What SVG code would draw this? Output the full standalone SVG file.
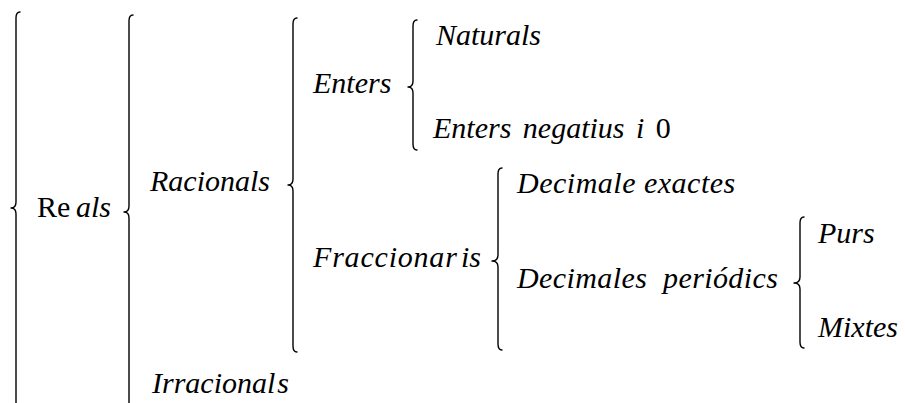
<svg xmlns="http://www.w3.org/2000/svg" width="905" height="403" viewBox="0 0 905 403">
<style>
.t{font-family:"Liberation Serif","Times New Roman",serif;font-size:30px;font-style:italic;fill:#000}
.r{font-style:normal}
.b{fill:none;stroke:#000;stroke-width:1.4;stroke-linecap:round;stroke-linejoin:round}
</style>
<rect width="905" height="403" fill="#fff"/>
<g id="connectors">
<path class="b" d="M20,12 Q16,12 16,18 L16,202 Q16,208 11,208 Q16,208 16,214 L16,410"/>
<path class="b" d="M133,15 Q129,15 129,21 L129,206 Q129,212 124,212 Q129,212 129,218 L129,410"/>
<path class="b" d="M297,18 Q293,18 293,24 L293,179 Q293,185 288,185 Q293,185 293,191 L293,346 Q293,352 297,352"/>
<path class="b" d="M417,20 Q413,20 413,26 L413,81 Q413,87 408,87 Q413,87 413,93 L413,144 Q413,150 417,150"/>
<path class="b" d="M502,168 Q498,168 498,174 L498,255 Q498,261 492,261 Q498,261 498,267 L498,344 Q498,350 502,350"/>
<path class="b" d="M804,217 Q800,217 800,223 L800,277 Q800,283 794,283 Q800,283 800,289 L800,342 Q800,348 804,348"/>
</g>
<g id="reals"><text class="t" y="217"><tspan class="r" x="37">Re</tspan><tspan x="76">als</tspan></text></g>
<g id="racionals"><text class="t" x="150" y="191">Racionals</text></g>
<g id="irracionals"><text class="t" x="152" y="393">Irracional<tspan dx="2">s</tspan></text></g>
<g id="enters"><text class="t" x="313" y="93">Enters</text></g>
<g id="fraccionaris"><text class="t" y="267"><tspan x="313" letter-spacing="0.8">Fraccionar</tspan><tspan x="461">is</tspan></text></g>
<g id="naturals"><text class="t" x="436" y="45">Naturals</text></g>
<g id="enters-negatius"><text class="t" x="433" y="138" word-spacing="4">Enters negatius i <tspan class="r">0</tspan></text></g>
<g id="decimale-exactes"><text class="t" x="517" y="193" letter-spacing="0.5">Decimale exactes</text></g>
<g id="decimales-periodics"><text class="t" x="517" y="288" letter-spacing="0.4" xml:space="preserve">Decimales  periódics</text></g>
<g id="purs"><text class="t" x="818" y="243">Purs</text></g>
<g id="mixtes"><text class="t" x="818" y="337">Mixtes</text></g>
</svg>
